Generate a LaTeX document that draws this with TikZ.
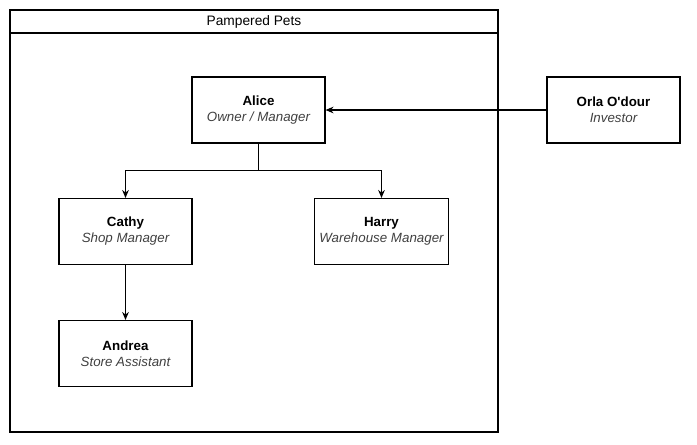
\documentclass[tikz,border=0pt]{standalone}
\usepackage{fontspec}
\setmainfont{Liberation Sans}
\usetikzlibrary{arrows.meta}
\begin{document}
\begin{tikzpicture}[
                x=0.75pt, y=-0.75pt,
                personnode/.style={
                    draw, rectangle, thick, minimum width=99.75pt, minimum height=49.5pt,
                    align=center, font=\fontsize{10}{12}\selectfont
                },
                link/.style={thick, -{Stealth[length=6pt, width=5pt]}}
            ]
            \useasboundingbox (0, 0) rectangle (697, 444);
            % container
            \draw[very thick] (10, 10) rectangle (498, 432);
            \draw[thick] (10, 33) -- (498, 33);
            \node[font=\fontsize{10.3}{12}\selectfont] (title) at (254, 21.5) {Pampered Pets};

            % nodes
            \node[personnode] (alice) at (258.5, 110) {\textbf{Alice}\\\textcolor{black!75}{\itshape Owner / Manager}};
            \node[personnode] (orla) at (613.5, 110) {\textbf{Orla O\textquotesingle dour}\\\textcolor{black!75}{\itshape Investor}};
            \node[personnode] (cathy) at (125.5, 231.5) {\textbf{Cathy}\\\textcolor{black!75}{\itshape Shop Manager}};
            \node[personnode] (harry) at (381.5, 231.5) {\textbf{Harry}\\\textcolor{black!75}{\itshape Warehouse Manager}};
            \node[personnode] (andrea) at (125.5, 353.5) {\textbf{Andrea}\\\textcolor{black!75}{\itshape Store Assistant}};

            % edges
            \draw[link] (orla) -- (alice);
            \draw[thick] (alice.south) -- ++(0, 27) coordinate (split);
            \draw[link] (split) -| (cathy.north);
            \draw[link] (split) -| (harry.north);
            \draw[link] (cathy) -- (andrea);
            \end{tikzpicture}
\end{document}
